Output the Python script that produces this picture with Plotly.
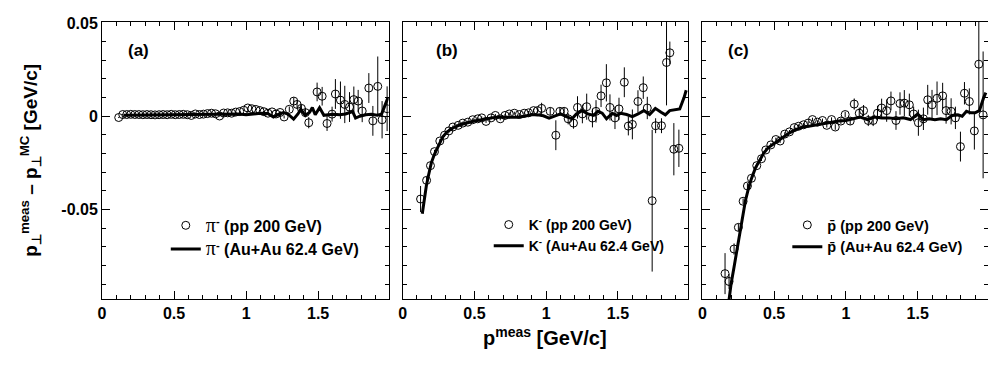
import plotly.graph_objects as go

# ---------------- data ----------------
# (a) pi-
pi_pp_x = [0.116,0.144,0.172,0.200,0.228,0.256,0.284,0.312,0.340,0.368,0.396,0.424,0.452,0.480,0.508,0.536,0.564,0.592,0.620,0.648,
           0.676,0.704,0.732,0.760,0.788,0.816,0.844,0.872,0.900,0.928,0.956,0.984,1.012,1.040,1.068,1.096,1.124,1.152,1.180,1.208,
           1.236,1.264,1.300,1.331,1.354,1.384,1.412,1.435,1.493,1.528,1.562,1.597,1.620,1.655,1.685,1.718,1.748,1.778,1.806,1.852,
           1.880,1.914,1.944,1.979]
pi_pp_y = [-0.0007,0.0009,0.0009,0.0010,0.0009,0.0009,0.0008,0.0009,0.0008,0.0007,0.0008,0.0009,0.0008,0.0010,0.0008,0.0009,0.0010,0.0008,0.0004,0.0012,
           0.0009,0.0011,0.0014,0.0016,0.0013,0.0001,0.0017,0.0018,0.0016,0.0022,0.0025,0.0032,0.0044,0.0040,0.0036,0.0030,0.0024,0.0016,0.0023,0.0012,
           0.0020,-0.0004,0.0037,0.0081,0.0063,0.0042,0.0019,-0.0035,0.0130,0.0107,-0.0039,0.0011,0.0119,0.0086,0.0063,0.0049,0.0089,0.0081,0.0028,0.0151,
           -0.0025,0.0160,-0.0019,0.0040]
pi_pp_err = [0.0003]*40 + [0.0008,0.0008,0.0015,0.0020,0.0020,0.0020,0.0025,0.0030,0.0050,0.0050,0.0040,0.0040,0.0080,0.0100,0.0100,0.0080,0.0070,0.0060,0.0060,0.0080,
             0.0080,0.0160,0.0100,0.0120]
pi_au_x = [0.15,0.25,0.35,0.45,0.55,0.65,0.75,0.85,0.95,1.0,1.05,1.1,1.15,1.19,1.23,1.26,1.29,1.33,1.36,1.38,1.41,1.44,1.46,1.48,1.51,1.54,1.57,1.61,
           1.65,1.69,1.72,1.74,1.76,1.79,1.83,1.87,1.91,1.94,1.96,1.985]
pi_au_y = [0.0005,0.0006,0.0007,0.0008,0.0009,0.0010,0.0012,0.0013,0.0012,0.0008,0.0014,0.0016,0.0014,-0.0005,0.0012,0.0020,0.0012,-0.0016,0.0012,0.0037,
           0.0005,0.0020,0.0046,0.0008,0.0046,0.0005,0.0008,0.0010,0.0008,0.0012,0.0020,0.0025,-0.0010,0.0000,0.0008,0.0010,0.0005,0.0010,0.0050,0.0100]

# (b) K-
k_pp_x = [0.125,0.167,0.194,0.222,0.259,0.292,0.322,0.350,0.387,0.419,0.454,0.488,0.523,0.551,0.581,0.616,0.646,0.680,0.713,0.743,
          0.778,0.813,0.847,0.877,0.912,0.940,0.968,1.028,1.067,1.095,1.125,1.153,1.190,1.218,1.252,1.282,1.322,1.347,1.382,1.419,
          1.444,1.479,1.507,1.544,1.572,1.600,1.639,1.676,1.704,1.738,1.762,1.803,1.838,1.861,1.889,1.924]
k_pp_y = [-0.0444,-0.0344,-0.0265,-0.0190,-0.0133,-0.0102,-0.0079,-0.0058,-0.0049,-0.0037,-0.0032,-0.0019,-0.0014,-0.0009,-0.0028,-0.0009,0.0004,-0.0014,0.0004,0.0012,
          0.0016,0.0009,0.0016,0.0018,0.0030,0.0030,0.0042,0.0026,-0.0102,0.0026,0.0026,-0.0014,-0.0037,0.0047,0.0012,0.0051,-0.0010,0.0026,0.0109,0.0179,
          0.0047,-0.0009,0.0039,0.0182,-0.0053,-0.0044,0.0079,0.0153,0.0044,-0.0453,-0.0051,-0.0051,0.0288,0.0340,-0.0177,-0.0172]
k_pp_err = [0.0070,0.0020,0.0015,0.0010,0.0010,0.0010,0.0010,0.0008,0.0008,0.0008,0.0008,0.0008,0.0008,0.0008,0.0008,0.0008,0.0008,0.0008,0.0008,0.0008,
            0.0008,0.0008,0.0008,0.0010,0.0010,0.0015,0.0030,0.0020,0.0080,0.0020,0.0020,0.0030,0.0030,0.0060,0.0050,0.0070,0.0050,0.0060,0.0060,0.0100,
            0.0070,0.0060,0.0060,0.0080,0.0050,0.0080,0.0060,0.0060,0.0060,0.0380,0.0040,0.0040,0.0230,0.0060,0.0140,0.0100]
k_au_x = [0.137,0.15,0.165,0.18,0.2,0.22,0.25,0.28,0.31,0.35,0.4,0.45,0.5,0.55,0.6,0.65,0.7,0.75,0.8,0.85,0.9,0.94,0.98,1.02,1.06,1.1,1.14,1.18,
          1.21,1.25,1.29,1.33,1.36,1.39,1.42,1.46,1.49,1.52,1.56,1.6,1.64,1.68,1.72,1.76,1.8,1.83,1.86,1.89,1.93,1.96,1.975]
k_au_y = [-0.0523,-0.0444,-0.0374,-0.0318,-0.0250,-0.0207,-0.0154,-0.0110,-0.0084,-0.0063,-0.0046,-0.0035,-0.0026,-0.0019,-0.0011,-0.0005,-0.0005,-0.0005,-0.0005,0.0000,
          0.0009,0.0007,0.0002,-0.0010,0.0000,0.0012,-0.0002,-0.0014,0.0012,0.0030,0.0012,0.0004,0.0026,0.0016,-0.0014,0.0016,0.0004,0.0016,0.0009,-0.0002,
          0.0012,0.0030,0.0009,0.0042,0.0021,0.0007,0.0030,0.0035,0.0039,0.0100,0.0139]

# (c) pbar
p_pp_x = [0.158,0.186,0.221,0.251,0.284,0.314,0.342,0.379,0.412,0.442,0.477,0.512,0.542,0.574,0.607,0.640,0.670,0.705,0.737,0.767,
          0.802,0.837,0.867,0.900,0.926,0.965,0.995,1.030,1.058,1.093,1.123,1.156,1.190,1.220,1.249,1.284,1.314,1.349,1.377,1.407,
          1.442,1.472,1.505,1.540,1.570,1.600,1.635,1.674,1.698,1.733,1.763,1.798,1.826,1.860,1.895,1.926,1.956]
p_pp_y = [-0.0844,-0.0886,-0.0712,-0.0596,-0.0456,-0.0374,-0.0333,-0.0265,-0.0228,-0.0181,-0.0154,-0.0125,-0.0133,-0.0096,-0.0084,-0.0061,-0.0054,-0.0046,-0.0037,-0.0018,
          -0.0032,-0.0023,-0.0049,-0.0018,-0.0058,-0.0026,0.0009,-0.0026,0.0065,0.0016,0.0030,-0.0023,-0.0023,0.0016,0.0044,0.0030,0.0082,-0.0023,0.0068,0.0070,
          0.0061,0.0012,-0.0035,-0.0014,0.0088,0.0061,0.0096,0.0109,0.0030,0.0026,-0.0009,-0.0163,0.0123,0.0079,-0.0079,0.0279,0.0007]
p_pp_err = [0.0110,0.0040,0.0030,0.0020,0.0015,0.0015,0.0015,0.0012,0.0012,0.0012,0.0010,0.0010,0.0010,0.0010,0.0010,0.0010,0.0010,0.0010,0.0010,0.0010,
            0.0010,0.0010,0.0012,0.0012,0.0015,0.0015,0.0015,0.0020,0.0030,0.0030,0.0030,0.0030,0.0030,0.0040,0.0050,0.0060,0.0050,0.0050,0.0060,0.0070,
            0.0060,0.0040,0.0070,0.0060,0.0080,0.0080,0.0090,0.0070,0.0070,0.0070,0.0060,0.0080,0.0060,0.0070,0.0100,0.0250,0.0340]
p_au_x = [0.18,0.2,0.22,0.24,0.26,0.28,0.3,0.32,0.34,0.37,0.4,0.43,0.46,0.5,0.55,0.6,0.65,0.7,0.75,0.8,0.85,0.9,0.95,1.0,1.05,1.1,1.15,1.2,
          1.25,1.3,1.35,1.4,1.45,1.5,1.54,1.58,1.62,1.66,1.7,1.74,1.78,1.81,1.84,1.87,1.9,1.93,1.96,1.975]
p_au_y = [-0.1020,-0.0900,-0.0812,-0.0725,-0.0628,-0.0532,-0.0453,-0.0391,-0.0339,-0.0277,-0.0233,-0.0195,-0.0168,-0.0146,-0.0119,-0.0093,-0.0072,-0.0058,-0.0053,-0.0046,
          -0.0037,-0.0032,-0.0026,-0.0023,-0.0014,-0.0005,-0.0019,-0.0005,-0.0009,-0.0009,-0.0014,-0.0009,-0.0018,0.0012,-0.0019,-0.0014,-0.0019,-0.0014,-0.0019,0.0004,
          0.0007,0.0000,0.0026,0.0018,0.0018,0.0030,0.0100,0.0126]

y_tickvals = [-0.05, 0, 0.05]
y_ticktext = ["-0.05", "0", "0.05"]
panel_labels = ["(a)", "(b)", "(c)"]

PI = "<span style=\"font-family:'Liberation Serif';font-weight:normal;font-size:20px\">&#960;</span><sup>-</sup>"
K = "K<sup>-</sup>"
PBAR = "p&#772;"
legend_pp = [PI + " (pp 200 GeV)", K + " (pp 200 GeV)", PBAR + " (pp 200 GeV)"]
legend_au = [PI + " (Au+Au 62.4 GeV)", K + " (Au+Au 62.4 GeV)", PBAR + " (Au+Au 62.4 GeV)"]

panels = [
    (pi_pp_x, pi_pp_y, pi_pp_err, pi_au_x, pi_au_y),
    (k_pp_x, k_pp_y, k_pp_err, k_au_x, k_au_y),
    (p_pp_x, p_pp_y, p_pp_err, p_au_x, p_au_y),
]

FONT = "Liberation Sans"
fig = go.Figure()
domains = [[0.0, 0.3236], [0.3393, 0.6618], [0.6776, 1.0]]
legend_names = ["legend", "legend2", "legend3"]
legend_x = [0.072, 0.4365, 0.7735]
legend_y = [0.327, 0.325, 0.325]
legend_size = [16, 14, 14.5]
label_x = [0.165, 0.22, 0.167]

for i, (px, py, pe, lx, ly) in enumerate(panels):
    xa = "x" if i == 0 else f"x{i+1}"
    ya = "y" if i == 0 else f"y{i+1}"
    fig.add_trace(go.Scatter(
        x=px, y=py, mode="markers", xaxis=xa, yaxis=ya, name=legend_pp[i],
        legend=legend_names[i],
        marker=dict(symbol="circle-open", size=8, color="black", line=dict(width=1, color="black")),
        error_y=dict(type="data", array=pe, width=0, thickness=1, color="black"),
    ))
    fig.add_trace(go.Scatter(
        x=lx, y=ly, mode="lines", xaxis=xa, yaxis=ya, name=legend_au[i],
        legend=legend_names[i],
        line=dict(color="black", width=3),
    ))

tickfont = dict(family=FONT, size=16, color="black", weight="bold")

layout = dict(
    # page body has an 8px default margin, so the figure is 8px smaller each way
    width=988, height=364,
    margin=dict(l=94, r=7, t=8, b=73),
    paper_bgcolor="white", plot_bgcolor="white",
    font=dict(family=FONT, color="black", weight="bold"),
    showlegend=True,
)

for i in range(3):
    sfx = "" if i == 0 else str(i + 1)
    layout["xaxis" + sfx] = dict(
        domain=domains[i], range=[0, 1.99], anchor="y" + sfx,
        tickmode="linear", tick0=0, dtick=0.5,
        ticks="inside", ticklen=8, tickwidth=1, tickcolor="black",
        showline=True, linecolor="black", linewidth=1, mirror="allticks",
        showgrid=False, zeroline=False, tickfont=tickfont,
        minor=dict(tickmode="linear", tick0=0, dtick=0.1, ticks="inside", ticklen=4, tickwidth=1, tickcolor="black", showgrid=False),
    )
    layout["yaxis" + sfx] = dict(
        range=[-0.098, 0.0505], anchor="x" + sfx,
        tickmode="array", tickvals=y_tickvals, ticktext=y_ticktext, showticklabels=(i == 0),
        ticks="inside", ticklen=8, tickwidth=1, tickcolor="black",
        showline=True, linecolor="black", linewidth=1, mirror="allticks",
        showgrid=False, zeroline=False, tickfont=tickfont,
        minor=dict(tickmode="linear", tick0=0, dtick=0.01, ticks="inside", ticklen=4, tickwidth=1, tickcolor="black", showgrid=False),
    )
    layout[legend_names[i]] = dict(
        x=legend_x[i], y=legend_y[i], xanchor="left", yanchor="top",
        bgcolor="rgba(0,0,0,0)", borderwidth=0,
        font=dict(family=FONT, size=legend_size[i], color="black", weight="bold"),
        tracegroupgap=0,
    )

fig.update_layout(**layout)

annotations = []
for i in range(3):
    sfx = "" if i == 0 else str(i + 1)
    annotations.append(dict(
        x=label_x[i], y=0.035, xref="x" + sfx, yref="y" + sfx, text=panel_labels[i],
        showarrow=False, xanchor="left", yanchor="middle",
        font=dict(family=FONT, size=17, color="black", weight="bold"),
    ))
annotations.append(dict(
    x=-0.081, y=0.5, xref="paper", yref="paper", textangle=-90,
    text="p<sub>&#8869;</sub><sup>meas</sup> &#8211; p<sub>&#8869;</sub><sup>MC</sup> [GeV/c]",
    showarrow=False, xanchor="center", yanchor="middle",
    font=dict(family=FONT, size=19, color="black", weight="bold"),
))
annotations.append(dict(
    x=0.4995, y=-0.135, xref="paper", yref="paper",
    text="p<sup>meas</sup> [GeV/c]",
    showarrow=False, xanchor="center", yanchor="middle",
    font=dict(family=FONT, size=20, color="black", weight="bold"),
))
fig.update_layout(annotations=annotations)

fig.write_html("out.html")
